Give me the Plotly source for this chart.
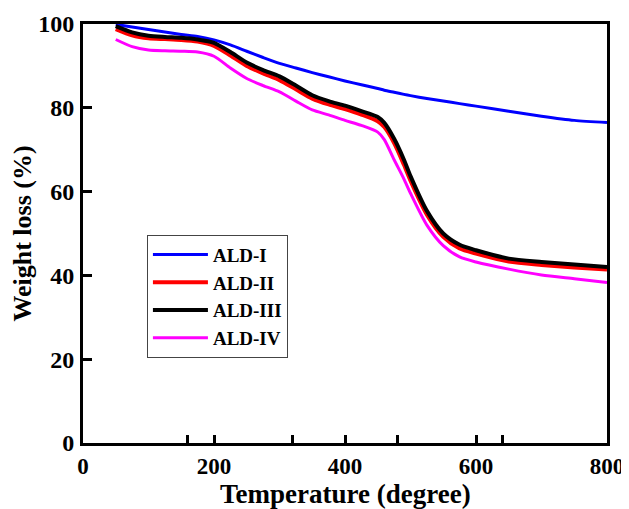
import plotly.graph_objects as go

temperature = [50, 75, 100, 125, 150, 175, 200, 225, 250, 275, 300, 325, 350, 375, 400,
               425, 450, 460, 475, 490, 500, 525, 550, 575, 600, 650, 700, 750, 800]

ald_i = [99.9, 99.3, 98.7, 98.1, 97.5, 97.0, 96.2, 95.0, 93.5, 92.0, 90.6, 89.5, 88.4, 87.4, 86.4,
         85.5, 84.6, 84.2, 83.7, 83.2, 82.9, 82.2, 81.6, 81.0, 80.4, 79.2, 78.0, 77.0, 76.5]
ald_ii = [98.8, 97.3, 96.6, 96.4, 96.2, 95.8, 94.8, 92.5, 90.0, 88.2, 86.6, 84.4, 82.2, 80.8, 79.7,
          78.4, 76.8, 75.4, 71.6, 66.4, 62.6, 54.5, 49.2, 46.4, 45.2, 43.3, 42.5, 41.9, 41.4]
ald_iii = [99.5, 98.0, 97.2, 96.9, 96.7, 96.3, 95.5, 93.3, 90.8, 89.0, 87.5, 85.3, 83.0, 81.6, 80.5,
           79.2, 77.8, 76.4, 72.6, 67.6, 63.7, 55.4, 50.0, 47.3, 46.0, 44.0, 43.2, 42.6, 42.0]
ald_iv = [96.3, 94.6, 93.8, 93.6, 93.5, 93.3, 92.3, 89.5, 87.0, 85.3, 83.8, 81.6, 79.5, 78.3, 77.0,
          75.8, 74.2, 72.4, 67.6, 63.0, 59.6, 52.0, 47.1, 44.4, 43.2, 41.5, 40.1, 39.2, 38.3]

series_names = ["ALD-I", "ALD-II", "ALD-III", "ALD-IV"]
series_values = [ald_i, ald_ii, ald_iii, ald_iv]
colors = ["#0000ff", "#ff0000", "#000000", "#ff00ff"]
widths = [3, 4, 4, 3]

x_tick_vals = [0, 200, 400, 600, 800]
x_minor_ticks = [160, 320, 480, 640]
y_tick_vals = [0, 20, 40, 60, 80, 100]

x_title = "Temperature (degree)"
y_title = "Weight loss (%)"

FONT = "Liberation Serif, Times New Roman, serif"

fig = go.Figure()
for name, vals, c, w in zip(series_names, series_values, colors, widths):
    fig.add_trace(go.Scatter(x=temperature, y=vals, mode="lines", name=name,
                             line=dict(color=c, width=w, shape="spline", smoothing=0.7)))

fig.update_layout(
    width=629, height=509,
    margin=dict(l=75, r=30, t=16, b=74, autoexpand=False),
    paper_bgcolor="white", plot_bgcolor="white",
    font=dict(family=FONT, color="black", size=24, weight="bold"),
    showlegend=True,
    legend=dict(x=0.122, y=0.497, xanchor="left", yanchor="top",
                bgcolor="white", bordercolor="#444444", borderwidth=1,
                font=dict(family=FONT, size=19, color="black", weight="bold"),
                traceorder="normal", itemwidth=55),
    annotations=[dict(text=x_title, xref="paper", yref="paper", x=0.5, y=0,
                      xanchor="center", yanchor="middle", yshift=-51, showarrow=False,
                      font=dict(family=FONT, size=27, weight="bold", color="black"))],
)

fig.update_xaxes(
    range=[0, 800], tickmode="array", tickvals=x_tick_vals, automargin=False,
    ticks="inside", ticklen=8, tickwidth=3, tickcolor="black",
    showline=True, linewidth=3, linecolor="black", mirror=True,
    showgrid=False, zeroline=False,
    tickfont=dict(family=FONT, size=23, weight="bold"),
    ticklabelstandoff=0,
    minor=dict(tickmode="array", tickvals=x_minor_ticks, ticks="inside",
               ticklen=8, tickwidth=3, tickcolor="black", showgrid=False),
)
fig.update_yaxes(
    range=[0, 100], tickmode="array", tickvals=y_tick_vals, automargin=False,
    ticks="inside", ticklen=9, tickwidth=3, tickcolor="black",
    showline=True, linewidth=3, linecolor="black", mirror=True,
    showgrid=False, zeroline=False,
    tickfont=dict(family=FONT, size=24, weight="bold"),
    ticklabelstandoff=1,
    title=dict(text=y_title, standoff=0,
               font=dict(family=FONT, size=26, weight="bold")),
)

fig.write_html("out.html")
